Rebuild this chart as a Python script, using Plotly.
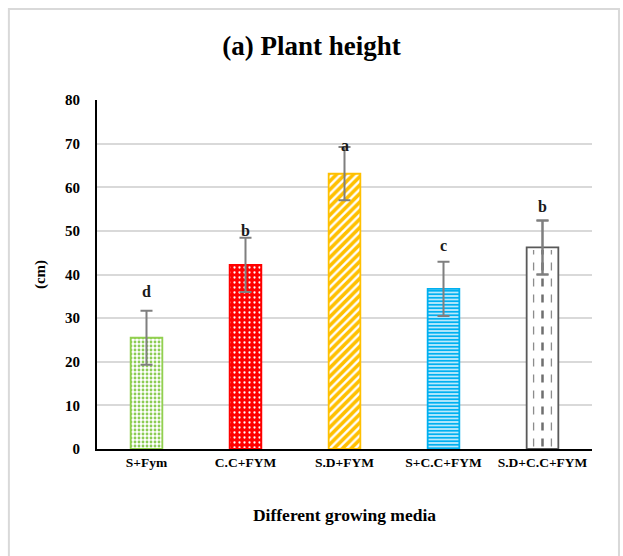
import plotly.graph_objects as go

# Plant height by growing medium (mean ± error) with significance letters
media = ["S+Fym", "C.C+FYM", "S.D+FYM", "S+C.C+FYM", "S.D+C.C+FYM"]
height_cm = [25.5, 42.2, 63.1, 36.7, 46.2]
height_err = [6.2, 6.2, 6.1, 6.2, 6.2]
sig_letters = ["d", "b", "a", "c", "b"]
letter_y = [36.0, 50.0, 69.6, 46.6, 55.7]

FONT = "Liberation Serif"
BAR_W = 0.32
ERR_COLOR = "#7f7f7f"

styles = [
    dict(color="white", line="#92D050", shape=".", fg="#8ccc55", bg="white", size=4, sol=0.4),
    dict(color="#FF0000", line="#FF0000", shape=".", fg="white", bg="#FF0000", size=5, sol=0.16),
    dict(color="white", line="#FFC000", shape="/", fg="#FFC000", bg="white", size=6, sol=0.6),
    dict(color="white", line="#00B0F0", shape="-", fg="#00B0F0", bg="#e8f8ff", size=3.5, sol=0.6),
    dict(color="white", line="#595959", shape="", fg="#595959", bg="white", size=8, sol=0.3),
]

fig = go.Figure()
xs = list(range(len(media)))

for i, (m, h, e, st) in enumerate(zip(media, height_cm, height_err, styles)):
    fig.add_trace(go.Bar(
        x=[i], y=[h], width=BAR_W, name=m,
        marker=dict(
            color=st["color"],
            line=dict(color=st["line"], width=1.8),
            pattern=dict(shape=st["shape"], fgcolor=st["fg"], bgcolor=st["bg"],
                         size=st["size"], solidity=st["sol"], fillmode="replace"),
        ),
        error_y=dict(type="data", array=[e], color=ERR_COLOR, thickness=2, width=6),
        showlegend=False,
    ))

# dashed vertical hatching inside the last bar
last = len(media) - 1
for off, w, col in [(-0.09, 1.3, "#8c8c8c"), (0.0, 2.5, "#6f6f6f"), (0.09, 1.3, "#8c8c8c")]:
    fig.add_trace(go.Scatter(
        x=[last + off, last + off], y=[0.6, height_cm[last] - 0.6],
        mode="lines", line=dict(color=col, width=w, dash="8px,8px"),
        hoverinfo="skip", showlegend=False,
    ))

# redraw the error bar on top of the hatching
fig.add_trace(go.Scatter(
    x=[last], y=[height_cm[last]], mode="markers", marker=dict(size=0.1, color="rgba(0,0,0,0)"),
    error_y=dict(type="data", array=[height_err[last]], color=ERR_COLOR, thickness=2, width=6),
    hoverinfo="skip", showlegend=False,
))

for i, (lt, ly) in enumerate(zip(sig_letters, letter_y)):
    fig.add_annotation(x=i, y=ly, text=f"<b>{lt}</b>", showarrow=False,
                       font=dict(family=FONT, size=16, color="#1a1a1a"))

# outer chart frame
fig.add_shape(type="rect", xref="paper", yref="paper",
              x0=-0.178, x1=1.0545, y0=-0.36, y1=1.261,
              line=dict(color="#d9d9d9", width=2), fillcolor="rgba(0,0,0,0)", layer="below")

fig.update_layout(
    width=623, height=556,
    margin=dict(l=97, r=31, t=100, b=107),
    paper_bgcolor="white", plot_bgcolor="white",
    title=dict(text="<b>(a) Plant height</b>", x=0.5, xanchor="center",
               y=1 - 46 / 556, yanchor="middle",
               font=dict(family=FONT, size=27, color="black")),
    xaxis=dict(
        range=[-0.5, 4.5], tickmode="array", tickvals=xs,
        ticktext=[f"<b>{m}</b>" for m in media],
        tickfont=dict(family=FONT, size=13.5, color="black"),
        showline=True, linecolor="black", linewidth=2, showgrid=False,
        ticks="", zeroline=False,
        title=dict(text="<b>Different growing media</b>",
                   font=dict(family=FONT, size=17.5, color="black"), standoff=40),
    ),
    yaxis=dict(
        range=[0, 80], dtick=10,
        tickfont=dict(family=FONT, size=15, color="black"),
        tickprefix="<b>", ticksuffix="</b>",
        showline=True, linecolor="black", linewidth=2,
        showgrid=True, gridcolor="#d9d9d9", gridwidth=1.5,
        zeroline=False, ticks="", ticklabelstandoff=12,
        title=dict(text="<b>(cm)</b>", font=dict(family=FONT, size=15, color="black"),
                   standoff=16),
    ),
    bargap=0.6,
)

fig.write_html("out.html")
